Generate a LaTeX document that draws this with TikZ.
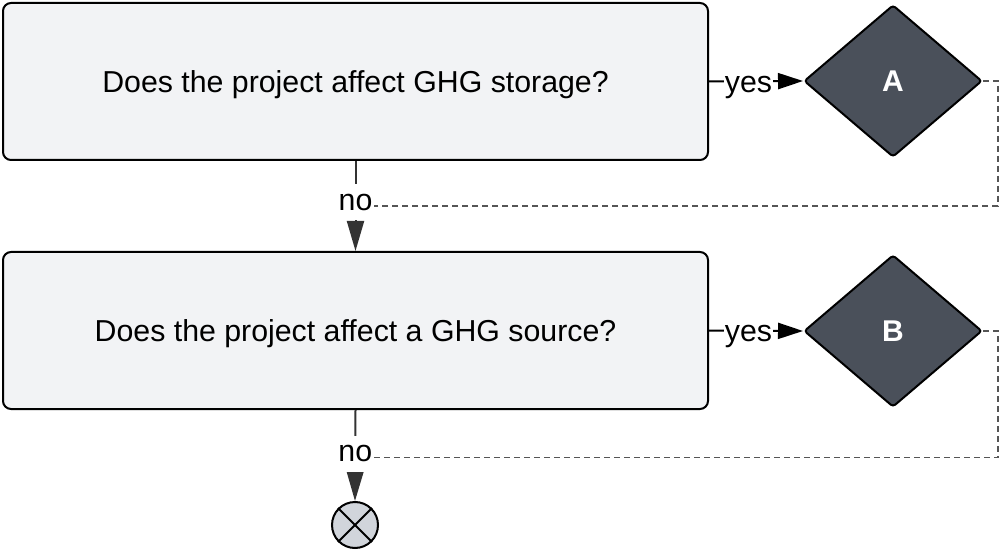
\documentclass[tikz,border=0pt]{standalone}
\usepackage{fontspec}
\setmainfont{Liberation Sans}
\usepackage{tikz}
\usetikzlibrary{arrows.meta, shapes.geometric, calc}
\usepackage{xcolor}
\definecolor{qfill}{HTML}{F2F3F5}
\definecolor{dfill}{HTML}{4A505A}
\definecolor{efill}{HTML}{D1D5DB}
\definecolor{dashgray}{HTML}{555555}
\definecolor{headgray}{HTML}{333333}

\begin{document}
\begin{tikzpicture}[
    x=1pt, y=-1pt,
    every node/.style = {font=\fontsize{30.3}{36}\selectfont},
    qbox/.style    = {draw, rounded corners=8pt, fill=qfill, line width=2pt,
                      minimum width=705pt, minimum height=157pt,
                      text height=22pt, text depth=0pt},
    dbox/.style    = {diamond, draw, rounded corners=3pt, fill=dfill, line width=2pt,
                      minimum width=178pt, minimum height=152pt, inner sep=0pt,
                      text=white, font=\fontsize{30}{36}\selectfont\bfseries},
    endc/.style    = {circle, draw, fill=efill, line width=2pt,
                      minimum size=46pt, inner sep=0pt},
    arr/.style     = {-{Triangle[length=25pt,width=16pt]}, line width=2pt},
    arrno/.style   = {-{Triangle[length=30pt,width=17pt]}, line width=2pt,
                      color=headgray},
    ylbl/.style    = {fill=white, inner xsep=1pt, inner ysep=2pt, text=black,
                      text height=22pt, text depth=0pt},
    nlbl/.style    = {fill=white, inner xsep=1pt, inner ysep=10pt, text=black,
                      text height=16pt, text depth=0pt},
    skip/.style    = {line width=1.5pt, dash pattern=on 6pt off 4pt, draw=dashgray},
]
\useasboundingbox (0,0) rectangle (1001,553);

%% Questions
\node[qbox] (q1) at (355.5, 81.5)  {Does the project affect GHG storage?};
\node[qbox] (q2) at (355.5, 330.5) {Does the project affect a GHG source?};

%% Outcomes
\node[dbox] (a) at (893, 81)  {A};
\node[dbox] (b) at (893, 331) {B};
\node[endc] (stop) at (355, 525) {};
\draw[line width=2pt] (stop.north east) -- (stop.south west);
\draw[line width=2pt] (stop.north west) -- (stop.south east);

%% Yes branches
\draw[arr] (q1.east) -- node[ylbl, pos=0.42] {yes} (a.west);
\draw[arr] (q2.east) -- node[ylbl, pos=0.42] {yes} (b.west);

%% No branches
\draw[arrno] (q1.south) -- node[nlbl, pos=0.456] (no1) {no} (q2.north);
\draw[arrno] (q2.south) -- node[nlbl, pos=0.48] (no2) {no} (stop.north);

%% Return lines
\draw[skip] (a.east) -- ++(15,0) |- ([yshift=-4pt]no1.east);
\draw[skip] (b.east) -- ++(15,0) |- ([yshift=-4pt]no2.east);

\end{tikzpicture}
\end{document}
